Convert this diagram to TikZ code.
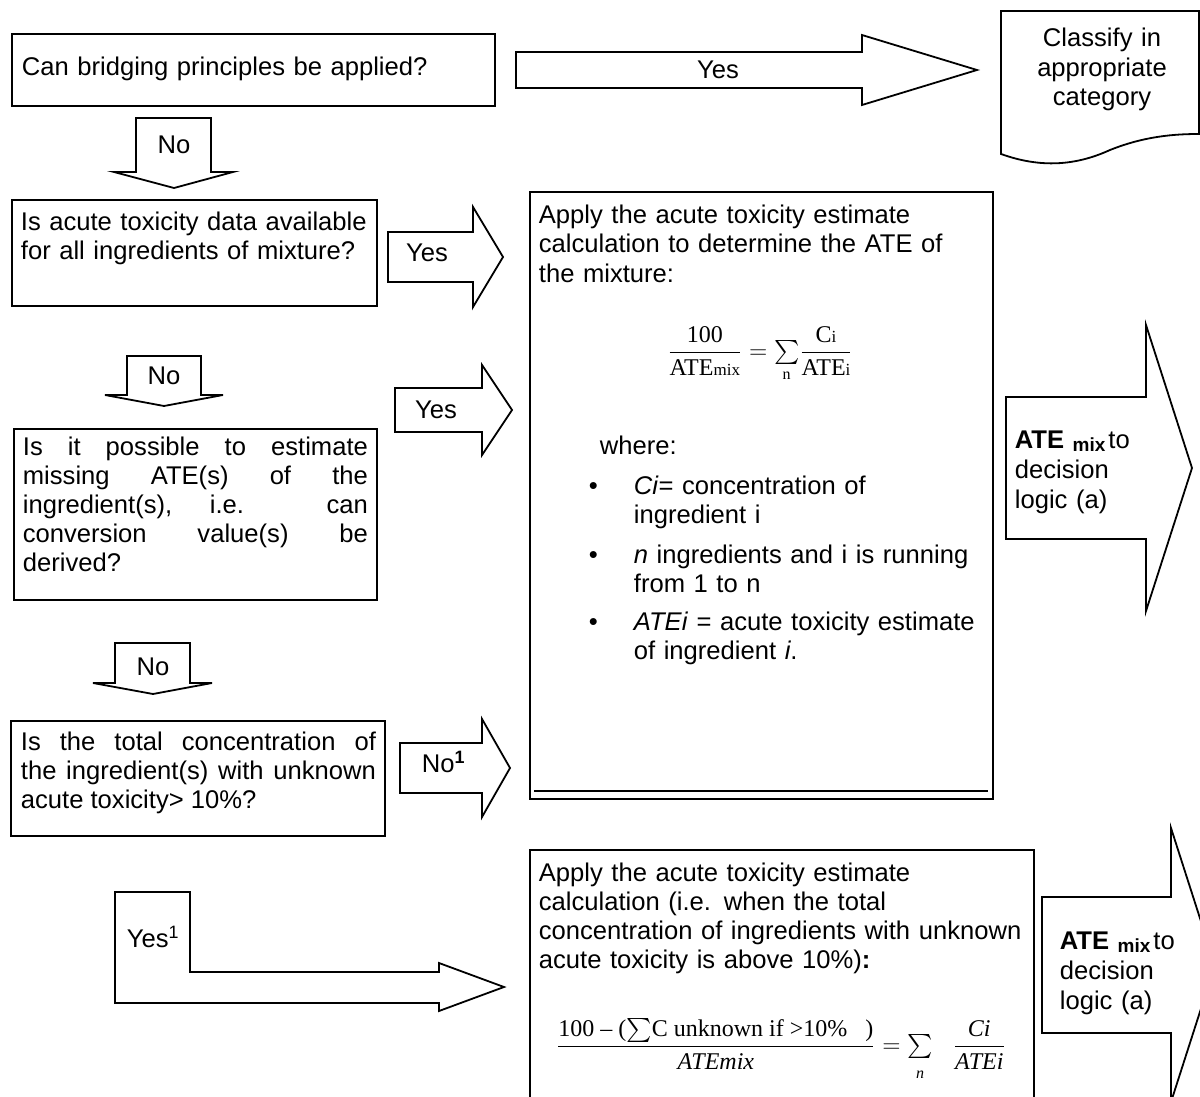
\documentclass[tikz,border=0pt]{standalone}
\usepackage{amsmath}
\usepackage{fontspec}
\setmainfont{Liberation Sans}
\newfontfamily\tmfont{Liberation Serif}
\usetikzlibrary{positioning,calc}
\hbadness=10000

\begin{document}
\begin{tikzpicture}[x=0.5pt, y=-0.5pt, line width=0.9pt,
    qbox/.style={draw, rectangle, anchor=north west, inner sep=0pt},
    blockarr/.style={draw, fill=white, line join=miter},
    body/.style={anchor=base west, inner sep=0pt, text width=250pt, align=left, font=\fontsize{12.8}{14.6}\selectfont},
    lbl/.style={inner sep=0pt, font=\fontsize{12.8}{15}\selectfont},
    formula/.style={inner sep=0pt, font=\fontsize{12}{13}\selectfont}]

    \useasboundingbox (0,0) rectangle (1200,1097);
    \clip (0,0) rectangle (1200,1097);

    % questions on the left
    \node [qbox, minimum width=241.5pt, minimum height=36pt] (bridging) at (11,33) {};
    \node [qbox, minimum width=182.5pt, minimum height=53pt] (toxdata) at (11,199) {};
    \node [qbox, minimum width=181.5pt, minimum height=85.5pt] (estimate) at (13,428) {};
    \node [qbox, minimum width=187pt, minimum height=57.5pt] (unknown) at (10,720) {};

    \node [body] (bridgingtxt) at ($(bridging.north west)+(10,43)$) {Can bridging principles be applied?};
    \node [body] (toxdatatxt) at ($(toxdata.north west)+(9,31)$) {Is acute toxicity data available\\for all ingredients of mixture?};
    \node [body, text width=172.5pt, align=justify] (estimatetxt) at ($(estimate.north west)+(9,27)$)
        {Is it possible to estimate\linebreak missing ATE(s) of the\linebreak ingredient(s), i.e. can\linebreak conversion value(s) be\linebreak derived?};
    \node [body, text width=177.5pt, align=justify] (unknowntxt) at ($(unknown.north west)+(10,30)$)
        {Is the total concentration of\linebreak the ingredient(s) with unknown\linebreak acute toxicity> 10\%?};

    % result boxes
    \node [qbox, minimum width=231.5pt, minimum height=303.5pt] (calcA) at (529,191) {};
    \node [qbox, minimum width=252pt, minimum height=150pt] (calcB) at (529,849) {};
    \draw ($(calcA.south west)+(5,-9)$) -- ($(calcA.south east)+(-6,-9)$);

    \node [body, font=\fontsize{12.8}{14.75}\selectfont] (calcAtxt) at ($(calcA.north west)+(9,32)$)
        {Apply the acute toxicity estimate\\calculation to determine the ATE of\\the mixture:};
    \node [formula] (sumA) at (760,354)
        {$\displaystyle\frac{\text{\tmfont 100}}{\text{\tmfont ATE{\fontsize{8.5}{9}\selectfont mix}}}
          = {\textstyle\sum\limits_{\text{\tmfont n}}}
          \frac{\text{\tmfont C{\fontsize{8.5}{9}\selectfont i}}}{\text{\tmfont ATE{\fontsize{8.5}{9}\selectfont i}}}$};
    \node [body] (where) at (599,454) {where:};
    \node [body, text width=10pt] (dotA) at (588,494) {\textbullet};
    \node [body, text width=10pt] (dotB) at (588,563) {\textbullet};
    \node [body, text width=10pt] (dotC) at (588,630) {\textbullet};
    \node [body, text width=180pt] (itemA) at (633,494) {\textit{Ci}= concentration of\\ingredient i};
    \node [body, text width=180pt] (itemB) at (633,563) {\textit{n} ingredients and i is running\\from 1 to n};
    \node [body, text width=180pt] (itemC) at (633,630) {\textit{ATEi} = acute toxicity estimate\\of ingredient \textit{i}.};

    \node [body] (calcBtxt) at ($(calcB.north west)+(9,32)$)
        {Apply the acute toxicity estimate\\calculation (i.e. when the total\\concentration of ingredients with unknown\\acute toxicity is above 10\%)\textbf{:}};
    \node [formula] (sumB) at (781,1050)
        {$\displaystyle\frac{\text{\tmfont 100 – (}{\textstyle\sum}\text{\tmfont C unknown if >10\%\ \ \ )}}{\text{\tmfont\itshape ATEmix}}
          = {\textstyle\sum\limits_{\rule{0pt}{8pt}\text{\tmfont\itshape n}}}\ \ \ \frac{\text{\tmfont\itshape Ci}}{\text{\tmfont\itshape ATEi}}$};

    % classify document
    \draw (1199,11) -- (1001,11) -- (1001,154) .. controls (1040,168) and (1075,166) .. (1110,150)
        .. controls (1145,136) and (1175,134) .. (1199,134) -- cycle;
    \node [lbl, text width=90pt, align=center, anchor=base, font=\fontsize{12.8}{14.75}\selectfont] (classify) at (1102,47) {Classify in\\appropriate\\category};

    % block arrows
    \draw [blockarr] (516,52) -- (862,52) -- (862,35) -- (977,70) -- (862,105) -- (862,88) -- (516,88) -- cycle;
    \draw [blockarr] (136,118) -- (211,118) -- (211,172) -- (233,172) -- (174,188) -- (114,172) -- (136,172) -- cycle;
    \draw [blockarr] (388,232) -- (473,232) -- (473,207) -- (503,257) -- (473,307) -- (473,282) -- (388,282) -- cycle;
    \draw [blockarr] (127,356) -- (201,356) -- (201,395) -- (223,395) -- (164,406) -- (105,395) -- (127,395) -- cycle;
    \draw [blockarr] (395,388) -- (482,388) -- (482,365) -- (512,410) -- (482,455) -- (482,432) -- (395,432) -- cycle;
    \draw [blockarr] (115,643) -- (190,643) -- (190,683) -- (212,683) -- (153,694) -- (93,683) -- (115,683) -- cycle;
    \draw [blockarr] (400,743) -- (482,743) -- (482,719) -- (510,768) -- (482,817) -- (482,793) -- (400,793) -- cycle;
    \draw [blockarr] (115,892) -- (190,892) -- (190,972) -- (439,972) -- (439,963) -- (504,987) -- (439,1011) -- (439,1003) -- (115,1003) -- cycle;
    \draw [blockarr] (1006,397) -- (1146,397) -- (1146,325) -- (1192,468) -- (1146,611) -- (1146,539) -- (1006,539) -- cycle;
    \draw [blockarr] (1042,897) -- (1171,897) -- (1171,828) -- (1215,965) -- (1171,1102) -- (1171,1033) -- (1042,1033) -- cycle;

    \node [lbl] (yesA) at (718,70) {Yes};
    \node [lbl] (noA) at (174,145) {No};
    \node [lbl] (yesB) at (427,253) {Yes};
    \node [lbl] (noB) at (164,376) {No};
    \node [lbl] (yesC) at (436,410) {Yes};
    \node [lbl] (noC) at (153,667) {No};
    \node [lbl, anchor=base west] (noD) at (421,772) {No\textsuperscript{\textbf{1}}};
    \node [lbl, anchor=base west] (yesD) at (126,947) {Yes\textsuperscript{1}};

    \node [body, text width=70pt, font=\fontsize{12.8}{15}\selectfont] (mixA) at (1014,448)
        {\textbf{ATE \raisebox{-1.5pt}{\fontsize{9.5}{10}\selectfont mix}}\kern1.5pt to\\decision\\logic (a)};
    \node [body, text width=70pt, font=\fontsize{12.8}{15}\selectfont] (mixB) at (1059,949)
        {\textbf{ATE \raisebox{-1.5pt}{\fontsize{9.5}{10}\selectfont mix}}\kern1.5pt to\\decision\\logic (a)};
\end{tikzpicture}
\end{document}
